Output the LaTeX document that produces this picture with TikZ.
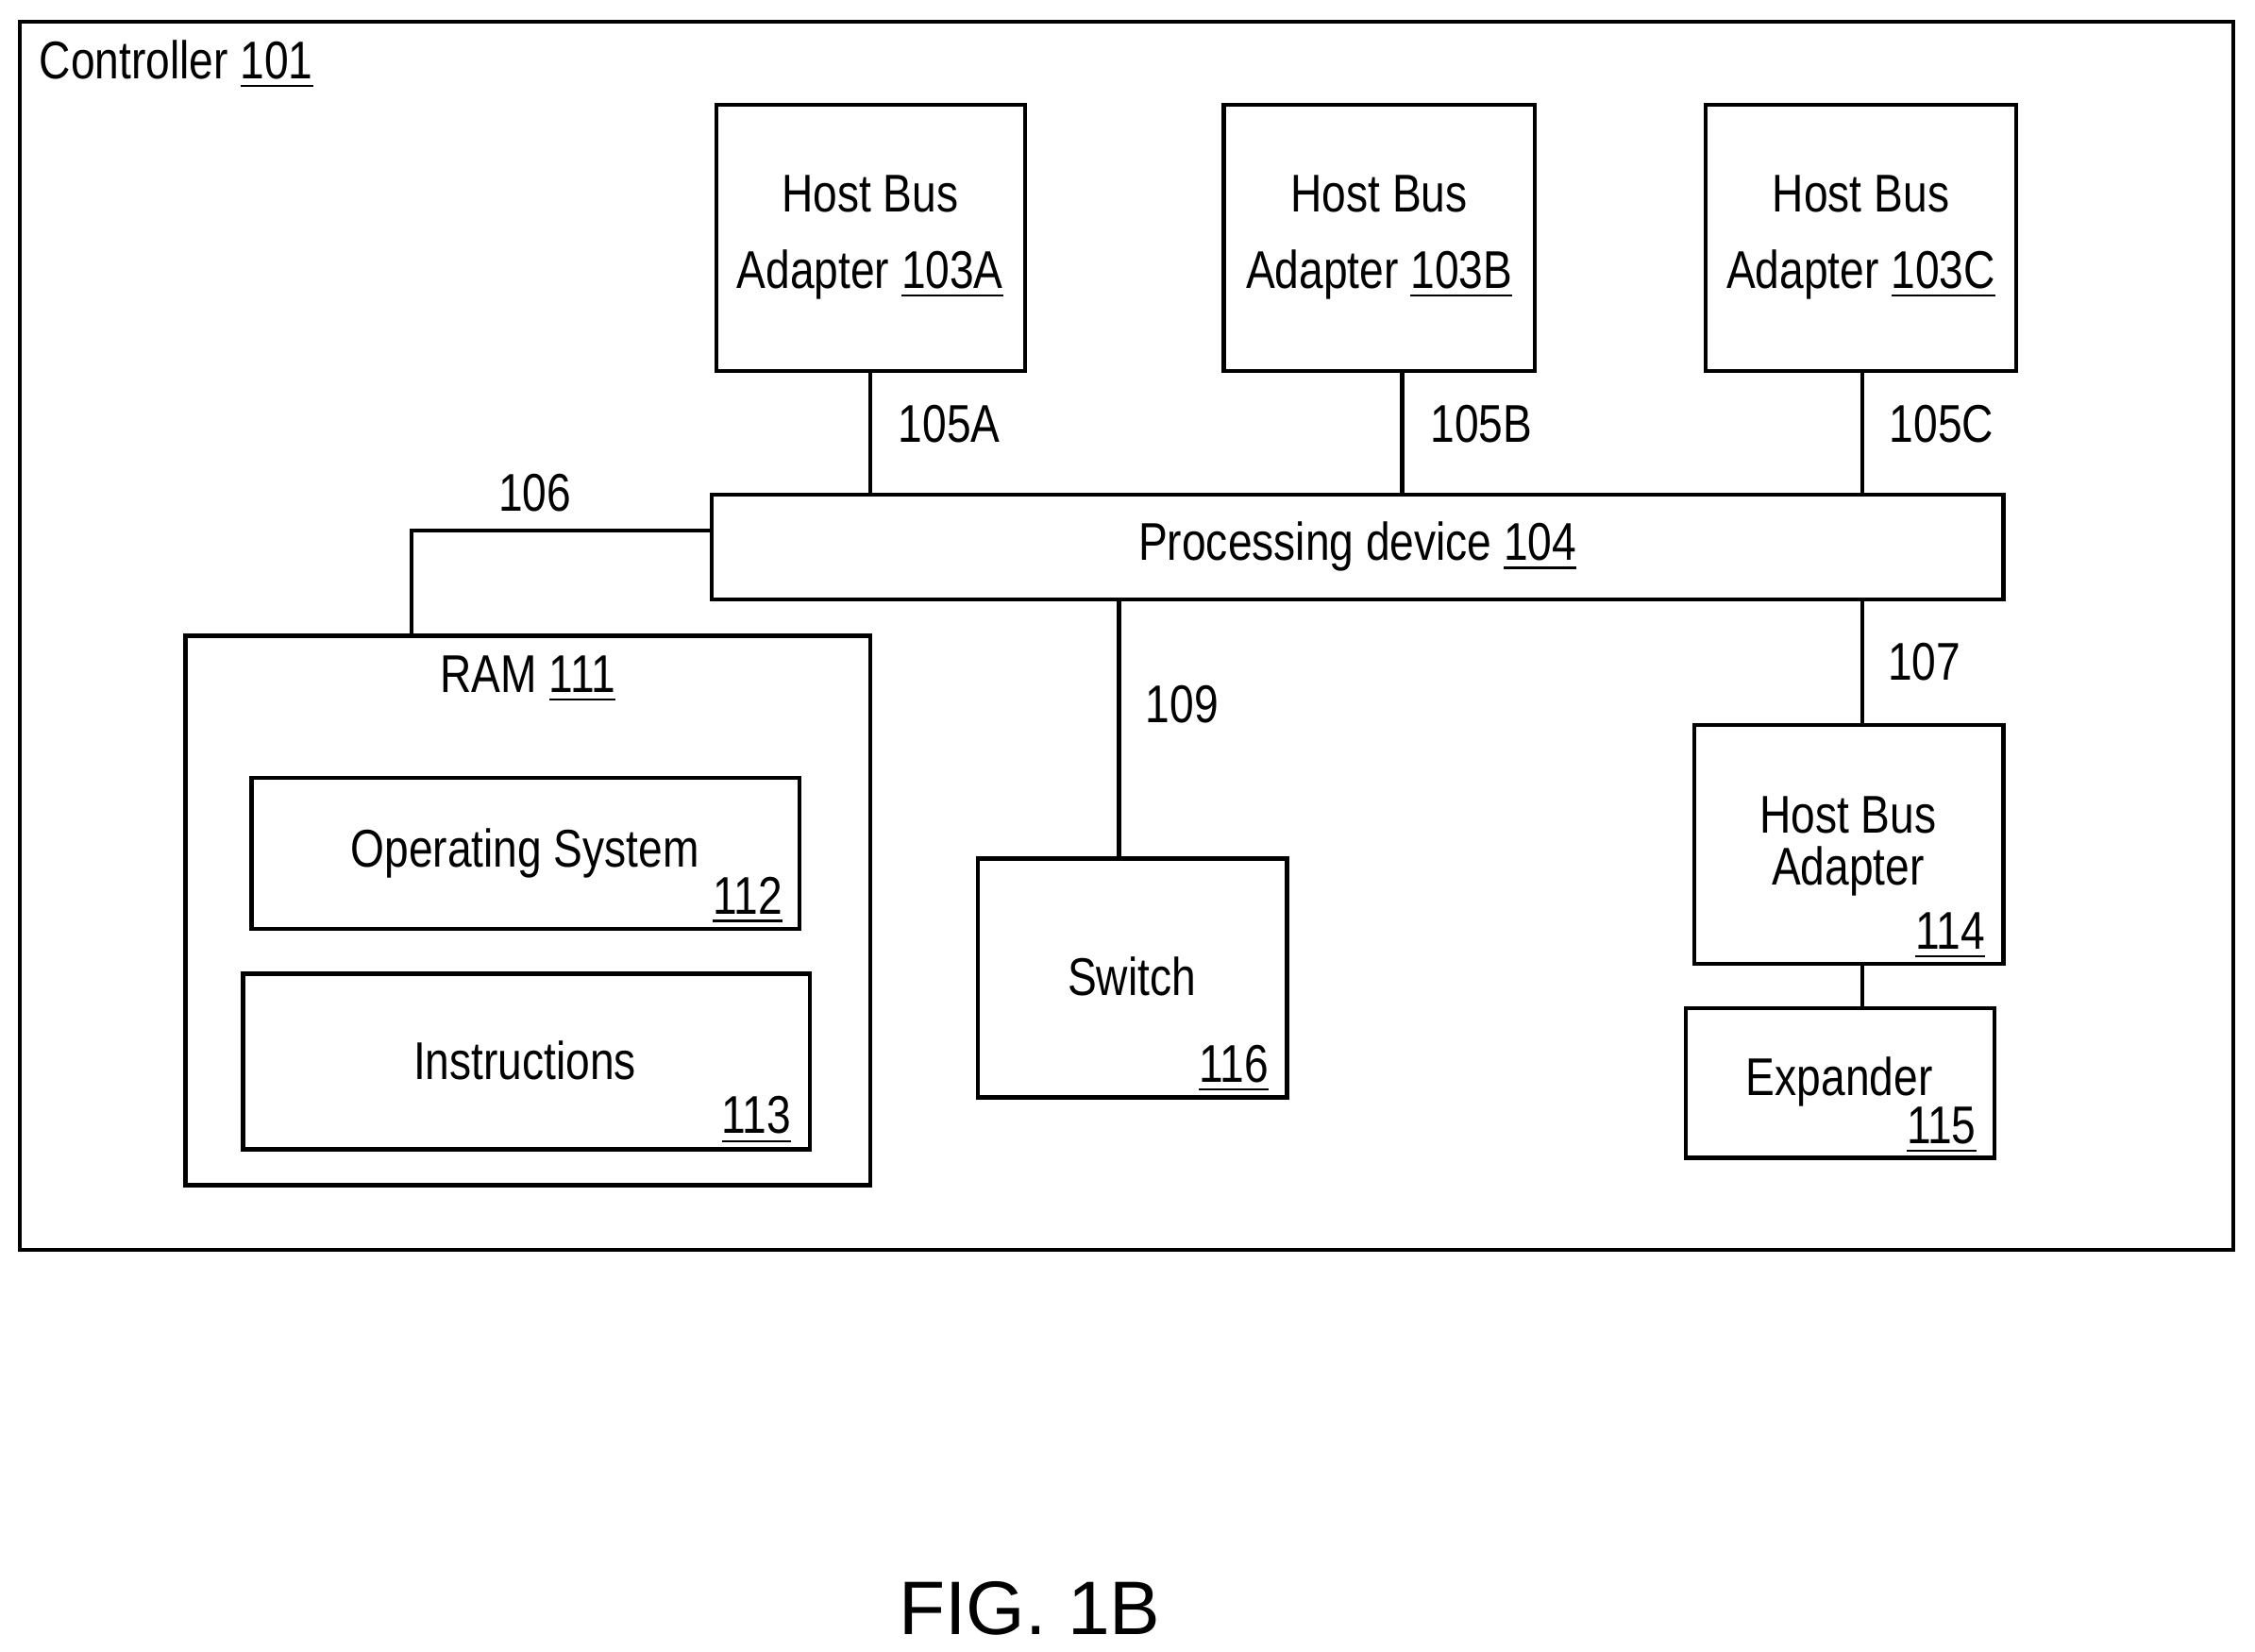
\documentclass[tikz,border=0pt]{standalone}
\usepackage{fontspec}
\setmainfont{Liberation Sans}[FakeStretch=0.82]
\newfontfamily\figfont{Liberation Sans}
\begin{document}
\begin{tikzpicture}[x=0.01cm,y=-0.01cm,line width=0.8pt,
  bx/.style={draw,rectangle},
  t/.style={font=\fontsize{10.5}{12}\selectfont,inner sep=0pt},
  u/.style={font=\fontsize{10.5}{12}\selectfont,inner sep=0pt}]
\useasboundingbox (0,0) rectangle (1568,1148);
\draw (14,15) rectangle (1553,869);
\node[t,anchor=west] (ctl) at (26,45) {Controller \underline{101}};
% HBAs
\draw (498,73) rectangle (713,258); \coordinate (a) at (605,258);
\draw (851,73) rectangle (1067,258); \coordinate (b) at (975,258);
\draw (1186,73) rectangle (1402,258); \coordinate (c) at (1295,258);
\node[t,align=center] (ta) at (605,165) {Host Bus\\[3pt]Adapter \underline{103A}};
\node[t,align=center] (tb) at (959,165) {Host Bus\\[3pt]Adapter \underline{103B}};
\node[t,align=center] (tc) at (1294,165) {Host Bus\\[3pt]Adapter \underline{103C}};
% processing
\draw (495,344) rectangle (1393,417);
\node[t] (pd) at (944,380) {Processing device \underline{104}};
\draw (a) -- (605,344); \draw (b) -- (975,344); \draw (c) -- (1295,344);
\node[t] at (660,295) {105A};
\node[t] at (1030,295) {105B};
\node[t] at (1350,295) {105C};
% 106
\draw (495,369) -- (286,369) -- (286,442);
\node[t] at (372,343) {106};
% RAM
\draw (129,442) rectangle (605,824);
\node[t] (ram) at (367,472) {RAM \underline{111}};
\draw (175,541) rectangle (556,646);
\node[t] (os) at (365,593) {Operating System};
\node[t] at (520,626) {\underline{112}};
\draw (169,677) rectangle (563,799);
\node[t] (ins) at (365,737) {Instructions};
\node[t] at (526,779) {\underline{113}};
% switch
\draw (680,597) rectangle (895,763);
\draw (778,417) -- (778,597);
\node[t] at (822,490) {109};
\node[t] (sw) at (787,679) {Switch};
\node[t] at (858,743) {\underline{116}};
% HBA 114
\draw (1178,504) rectangle (1393,670);
\draw (1295,417) -- (1295,504);
\node[t] at (1338,460) {107};
\node[t] at (1285,567) {Host Bus};
\node[t] at (1285,606) {Adapter};
\node[t] at (1356,651) {\underline{114}};
% expander
\draw (1172,701) rectangle (1387,805);
\draw (1295,670) -- (1295,701);
\node[t] (ex) at (1279,752) {Expander};
\node[t] at (1350,786) {\underline{115}};
\node[inner sep=0pt,font=\figfont\fontsize{15}{17}\selectfont] (fig) at (716,1118) {FIG. 1B};
\end{tikzpicture}
\end{document}
